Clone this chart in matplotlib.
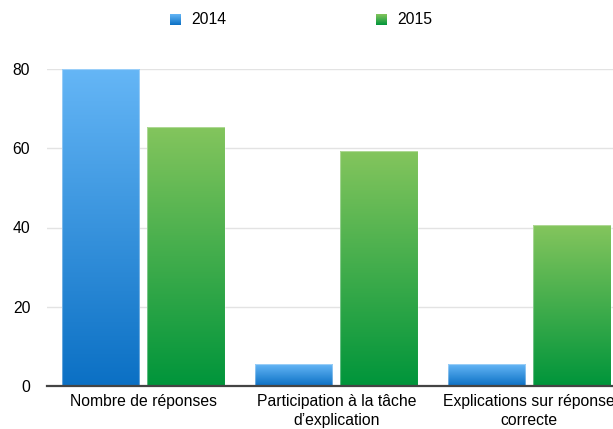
import numpy as np
import matplotlib
matplotlib.use("Agg")
import matplotlib.pyplot as plt
from matplotlib.colors import LinearSegmentedColormap

# données
categories = ["Nombre de réponses",
              "Participation à la tâche\nd’explication",
              "Explications sur réponse\ncorrecte"]
series = ["2014", "2015"]
valeurs_2014 = [80, 5.5, 5.5]
valeurs_2015 = [65.4, 59.4, 40.6]

plt.rcParams['font.family'] = ['Liberation Sans', 'DejaVu Sans']
fs = 11.3

# dégradés (haut clair -> bas foncé)
cmap_bleu = LinearSegmentedColormap.from_list("bleu", ["#0b70c4", "#65b6f6"])
cmap_vert = LinearSegmentedColormap.from_list("vert", ["#00953b", "#84c55d"])

fig = plt.figure(figsize=(6.13, 4.29), dpi=100)
ax = fig.add_axes([47/613, 1 - 386/429, 1 - 47/613, (386 - 69)/429])

x = np.arange(len(categories))
w = 0.4
off = 0.2215

grad = np.linspace(0, 1, 256).reshape(-1, 1)
for vals, cmap, dx in [(valeurs_2014, cmap_bleu, -off), (valeurs_2015, cmap_vert, off)]:
    bars = ax.bar(x + dx, vals, width=w, facecolor="none",
                  edgecolor=(1, 1, 1, 0.35), linewidth=0.8, zorder=3)
    for b in bars:
        x0, h = b.get_x(), b.get_height()
        im = ax.imshow(grad, extent=[x0, x0 + b.get_width(), 0, h], origin="lower",
                       aspect="auto", cmap=cmap, zorder=2)
        im.set_clip_path(b)

ax.set_xlim(-0.499, 2.434)
ax.set_ylim(0, 80)
ax.set_yticks([0, 20, 40, 60, 80])
ax.set_xticks(x)
ax.set_xticklabels(categories, fontsize=fs, linespacing=1.28)
ax.tick_params(axis="y", length=0, pad=12, labelsize=fs)
ax.tick_params(axis="x", length=0, pad=6)
ax.grid(axis="y", color="#e3e3e3", linewidth=1, zorder=0)
ax.set_axisbelow(True)
for s in ["top", "right", "left"]:
    ax.spines[s].set_visible(False)
ax.spines["bottom"].set_color("#444444")
ax.spines["bottom"].set_linewidth(1.6)
ax.spines["bottom"].set_zorder(4)

# légende en haut
for lab, cmap, px in [(series[0], cmap_bleu, 170), (series[1], cmap_vert, 376)]:
    lax = fig.add_axes([px/613, 1 - 25/429, 11/613, 11/429])
    lax.imshow(grad, origin="lower", aspect="auto", cmap=cmap)
    lax.axis("off")
    fig.text((px + 21)/613, 1 - 19/429, lab, fontsize=fs, va="center", ha="left")

fig.savefig("out.png", dpi=100)
